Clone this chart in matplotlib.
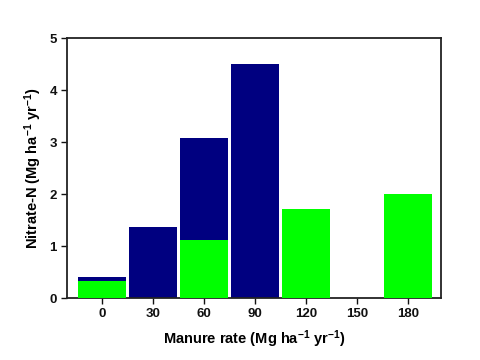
import numpy as np
import matplotlib
matplotlib.use("Agg")
import matplotlib.pyplot as plt

plt.rcParams['font.family'] = ['Liberation Sans', 'DejaVu Sans']
plt.rcParams['font.weight'] = 'bold'
plt.rcParams['mathtext.fontset'] = 'custom'
plt.rcParams['mathtext.rm'] = 'Liberation Sans:bold'
plt.rcParams['mathtext.bf'] = 'Liberation Sans:bold'
plt.rcParams['mathtext.default'] = 'bf'

rates = ['0', '30', '60', '90', '120', '150', '180']
navy_vals = [0.40, 1.36, 3.07, 4.50, 0.0, 0.0, 0.0]
green_vals = [0.32, 0.0, 1.12, 0.0, 1.72, 0.0, 2.00]

x = np.arange(len(rates))

fig = plt.figure(figsize=(4.8, 3.6), dpi=100)
ax = fig.add_axes([0.140, 0.172, 0.779, 0.722])

ax.bar(x, navy_vals, width=0.94, color='#000080', linewidth=0, zorder=2)
ax.bar(x, green_vals, width=0.94, color='#00ff00', linewidth=0, zorder=3)

ax.set_xlim(-0.69, 6.65)
ax.set_ylim(0, 5)
ax.set_xticks(x)
ax.set_xticklabels(rates)
ax.set_yticks(range(6))
ax.tick_params(direction='out', length=4, width=1, labelsize=9.5, colors='#111111')
for s in ax.spines.values():
    s.set_linewidth(1.3)
    s.set_color('#222222')

ax.set_xlabel(r'Manure rate (Mg ha$^{-1}$ yr$^{-1}$)', fontsize=10.5, fontweight='bold', labelpad=6)
ax.set_ylabel(r'Nitrate-N (Mg ha$^{-1}$ yr$^{-1}$)', fontsize=10.5, fontweight='bold', labelpad=4)

fig.savefig('out.png', dpi=100)
